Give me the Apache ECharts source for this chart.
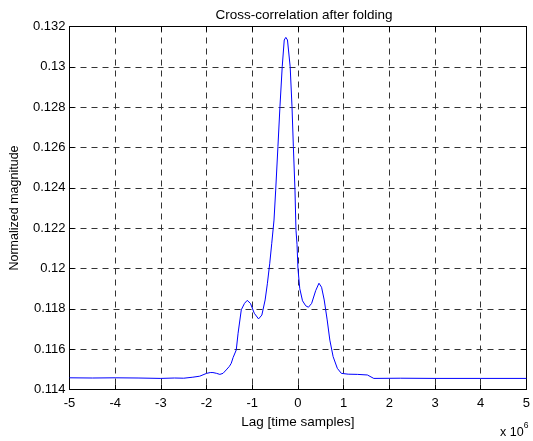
<!DOCTYPE html>
<html>
<head>
<meta charset="utf-8">
<script src="https://cdn.jsdelivr.net/npm/echarts@6/dist/echarts.min.js"></script>
<style>html,body{margin:0;padding:0;background:#fff;}#c{width:533px;height:441px;}</style>
</head>
<body>
<div id="c"></div>
<script>
const titleText = 'Cross-correlation after folding';
const xName = 'Lag [time samples]';
const yName = 'Normalized magnitude';
const xTicks = [-5, -4, -3, -2, -1, 0, 1, 2, 3, 4, 5];
const yTicks = [0.114, 0.116, 0.118, 0.12, 0.122, 0.124, 0.126, 0.128, 0.13, 0.132];
// lag in units of 10^6 samples
const lag = [-5, -4.5, -4, -3.5, -3, -2.7, -2.5, -2.3, -2.15, -2.0, -1.92, -1.86, -1.78, -1.71, -1.64, -1.57, -1.5, -1.46, -1.42, -1.35, -1.31, -1.24, -1.17, -1.11, -1.04, -0.955, -0.862, -0.79, -0.718, -0.668, -0.617, -0.573, -0.524, -0.487, -0.438, -0.394, -0.344, -0.30, -0.265, -0.229, -0.17, -0.13, -0.1, -0.065, -0.043, -0.02, 0, 0.04, 0.1, 0.17, 0.23, 0.30, 0.388, 0.46, 0.517, 0.575, 0.64, 0.698, 0.77, 0.862, 0.95, 1.1, 1.3, 1.52, 1.66, 2.24, 3, 4, 5];
const magnitude = [0.11458, 0.11457, 0.11458, 0.11457, 0.11455, 0.11457, 0.11456, 0.11461, 0.11466, 0.1148, 0.11484, 0.11484, 0.1148, 0.11475, 0.1148, 0.11497, 0.11515, 0.1153, 0.11558, 0.11596, 0.11679, 0.11795, 0.11827, 0.11842, 0.11827, 0.11778, 0.1175, 0.11769, 0.11844, 0.11927, 0.12026, 0.12125, 0.1224, 0.12389, 0.12604, 0.12802, 0.13001, 0.13133, 0.13146, 0.13133, 0.13, 0.12802, 0.12604, 0.12389, 0.1219, 0.1212, 0.12, 0.119, 0.1184, 0.11815, 0.11808, 0.11827, 0.1189, 0.11927, 0.11907, 0.11844, 0.11745, 0.11645, 0.11563, 0.11505, 0.1148, 0.11476, 0.11475, 0.11472, 0.11455, 0.11456, 0.11455, 0.11455, 0.11455];

const FONT = 'Liberation Sans, Arial, sans-serif';
const fmtY = v => String(parseFloat(Number(v).toFixed(3)));
const chart = echarts.init(document.getElementById('c'), null, {renderer: 'canvas'});
const gridLine = {show: true, lineStyle: {color: '#333', type: [6, 5], width: 1}};
const axisLineS = {show: true, onZero: false, lineStyle: {color: '#000', width: 1}};
const tickS = {show: true, inside: true, length: 5, lineStyle: {color: '#000'}};
chart.setOption({
  animation: false,
  backgroundColor: '#fff',
  title: {text: titleText, left: 299, top: 3, textAlign: 'center',
    textStyle: {fontFamily: FONT, fontSize: 13.5, fontWeight: 'normal', color: '#000'}},
  grid: {left: 67, right: 2, top: 26.5, bottom: 51.5, containLabel: false},
  xAxis: [{
    type: 'value', min: -5, max: 5, interval: 1, position: 'bottom',
    name: xName, nameLocation: 'middle', nameGap: 25.5,
    nameTextStyle: {fontFamily: FONT, fontSize: 13.5, color: '#000'},
    axisLine: axisLineS, axisTick: tickS, splitLine: gridLine,
    axisLabel: {fontFamily: FONT, fontSize: 13, color: '#000', margin: 7}
  }, {
    type: 'value', min: -5, max: 5, interval: 1, position: 'top',
    axisLine: axisLineS, axisTick: tickS, splitLine: {show: false}, axisLabel: {show: false}
  }],
  yAxis: [{
    type: 'value', min: 0.114, max: 0.132, interval: 0.002, position: 'left',
    name: yName, nameLocation: 'middle', nameGap: 48.5, nameRotate: 90,
    nameTextStyle: {fontFamily: FONT, fontSize: 12.5, color: '#000'},
    axisLine: axisLineS, axisTick: tickS, splitLine: gridLine,
    axisLabel: {fontFamily: FONT, fontSize: 13, color: '#000', margin: 4, formatter: fmtY}
  }, {
    type: 'value', min: 0.114, max: 0.132, interval: 0.002, position: 'right',
    axisLine: axisLineS, axisTick: tickS, splitLine: {show: false}, axisLabel: {show: false}
  }],
  graphic: [{
    type: 'text', left: 500, top: 421,
    style: {text: '{a|x 10}{b|6}', rich: {
      a: {fontFamily: FONT, fontSize: 12.5, fill: '#000', verticalAlign: 'bottom'},
      b: {fontFamily: FONT, fontSize: 8.5, fill: '#000', verticalAlign: 'top', padding: [0, 0, 9, 0]}
    }}
  }],
  series: [{
    type: 'line', xAxisIndex: 0, yAxisIndex: 0,
    data: lag.map((x, i) => [x, magnitude[i]]),
    showSymbol: false, smooth: false,
    lineStyle: {color: '#0000ff', width: 1},
    itemStyle: {color: '#0000ff'}
  }]
});
</script>
</body>
</html>
